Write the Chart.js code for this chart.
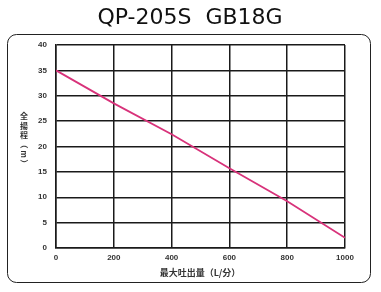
<!DOCTYPE html>
<html>
<head>
<meta charset="utf-8">
<script src="https://cdn.jsdelivr.net/npm/chart.js@4/dist/chart.umd.min.js"></script>
<style>
  html, body { margin: 0; padding: 0; background: #fff; }
  #wrap { width: 381px; height: 292px; position: relative; }
</style>
</head>
<body>
<div id="wrap"><canvas id="pumpChart"></canvas></div>
<script>
// data
const chartTitle = 'QP-205S  GB18G';
const flowValues = [0, 200, 400, 600, 800, 1000];      // L/min
const headValues = [35, 28.5, 22.4, 15.7, 9.2, 2];     // m
const xTickRange = [0, 1000, 200];
const yTickRange = [0, 40, 5];
const xAxisTitle = '最大吐出量（L/分）';
const yAxisTitle = ['全', '揚', '程', '（', 'm', '）'];

// frame + title + axis titles
const decorPlugin = {
    id: 'decor',
    beforeDraw(chart) {
        const c = chart.ctx;
        c.save();
        c.fillStyle = '#fff';
        c.fillRect(0, 0, chart.width, chart.height);
        c.strokeStyle = '#222';
        c.lineWidth = 1;
        c.beginPath();
        c.roundRect(7.5, 34.5, 363, 248, 9);
        c.stroke();
        c.fillStyle = '#111';
        c.font = '22px "DejaVu Sans", sans-serif';
        c.textAlign = 'center';
        c.textBaseline = 'middle';
        c.fillText(chartTitle, 190, 18);
        c.restore();
    },
    afterDraw(chart) {
        const c = chart.ctx;
        c.save();
        c.fillStyle = '#333';
        c.textAlign = 'center';
        c.textBaseline = 'middle';
        c.font = 'bold 9px "Noto Sans CJK JP", sans-serif';
        c.fillText(xAxisTitle, 200, 273);
        c.font = 'bold 8px "Noto Sans CJK JP", sans-serif';
        let y = 116;
        yAxisTitle.forEach(ch => {
            if (ch === '（' || ch === '）' || ch === 'm') {
                c.save();
                c.translate(24, y);
                c.rotate(Math.PI / 2);
                c.fillText(ch, 0, 0);
                c.restore();
            } else {
                c.fillText(ch, 24, y);
            }
            y += 9.5;
        });
        c.restore();
    }
};

const tickFont = { family: 'Arial, "Liberation Sans", sans-serif', size: 8, weight: 'bold' };

new Chart(document.getElementById('pumpChart').getContext('2d'), {
    type: 'line',
    data: {
        datasets: [{
            data: flowValues.map((f, i) => ({ x: f, y: headValues[i] })),
            borderColor: '#d8327a',
            borderWidth: 1.8,
            pointRadius: 0,
            tension: 0,
            fill: false
        }]
    },
    options: {
        responsive: true,
        maintainAspectRatio: false,
        animation: false,
        layout: { padding: { top: 45, right: 36, left: 0, bottom: 0 } },
        plugins: { legend: { display: false }, tooltip: { enabled: false }, title: { display: false } },
        scales: {
            x: {
                type: 'linear',
                min: xTickRange[0], max: xTickRange[1],
                ticks: { stepSize: xTickRange[2], color: '#333', font: tickFont, padding: 5, maxRotation: 0,
                         callback: v => String(v) },
                grid: { color: '#1a1a1a', lineWidth: 1.5, drawTicks: false },
                border: { color: '#1a1a1a', width: 1.5 },
                afterFit(s) { s.height = 44; }
            },
            y: {
                min: yTickRange[0], max: yTickRange[1],
                ticks: { stepSize: yTickRange[2], color: '#333', font: tickFont, padding: 9 },
                grid: { color: '#1a1a1a', lineWidth: 1.5, drawTicks: false },
                border: { color: '#1a1a1a', width: 1.5 },
                afterFit(s) { s.width = 56; }
            }
        }
    },
    plugins: [decorPlugin]
});
</script>
</body>
</html>
